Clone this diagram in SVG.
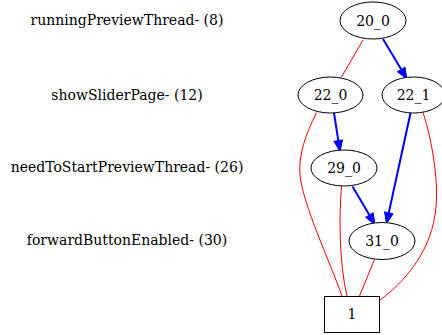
<svg xmlns="http://www.w3.org/2000/svg" width="442" height="335" viewBox="0 0 442 335">
<defs>
<style>
text{font-family:"DejaVu Serif","Liberation Serif",serif;font-size:14px;fill:#000;text-anchor:middle}
.node ellipse,.node rect{fill:#fff;stroke:#000;stroke-width:1}
.red{fill:none;stroke:#f00;stroke-width:1}
.blue{fill:none;stroke:#00f;stroke-width:2;marker-end:url(#ah)}
</style>
<marker id="ah" markerUnits="userSpaceOnUse" markerWidth="12" markerHeight="10" refX="0" refY="5" orient="auto" overflow="visible">
<path d="M0,0.7 L11,5 L0,9.3 z" fill="#00f" stroke="#00f" stroke-width="1"/>
</marker>
</defs>
<rect width="442" height="335" fill="#fff"/>
<g id="labels">
<text x="127" y="25">runningPreviewThread- (8)</text>
<text x="127" y="100">showSliderPage- (12)</text>
<text x="127" y="172">needToStartPreviewThread- (26)</text>
<text x="127" y="245">forwardButtonEnabled- (30)</text>
</g>
<g id="connectors">
<path class="red" d="M363,40 L341.5,77"/>
<path class="blue" d="M383,39 L401.3,69.6"/>
<path class="blue" d="M334,113 L338.3,140.6"/>
<path class="blue" d="M410.5,113 L388.8,212.8"/>
<path class="blue" d="M352.5,186.5 L369.4,215"/>
<path class="red" d="M316.5,112.5 C306,134 298,155 300,175 C303,205 330,262 342,296"/>
<path class="red" d="M423,112.5 C432,140 440,185 435,215 C429,255 402,284 380,300"/>
<path class="red" d="M341.5,186 C339,215 339,262 347,296"/>
<path class="red" d="M374.5,259.5 L359.5,296"/>
</g>
<g id="n20_0" class="node"><ellipse cx="373" cy="20.5" rx="33" ry="18.5"/><text x="373" y="25.5">20_0</text></g>
<g id="n22_0" class="node"><ellipse cx="330.5" cy="95" rx="32.5" ry="18"/><text x="330.5" y="100">22_0</text></g>
<g id="n22_1" class="node"><ellipse cx="413.5" cy="95" rx="31.5" ry="18"/><text x="413.5" y="100">22_1</text></g>
<g id="n29_0" class="node"><ellipse cx="344" cy="168" rx="33" ry="18"/><text x="344" y="173">29_0</text></g>
<g id="n31_0" class="node"><ellipse cx="382" cy="241" rx="33" ry="18.5"/><text x="382" y="246">31_0</text></g>
<g id="n1" class="node"><rect x="324.5" y="296.5" width="55" height="36"/><text x="352" y="319">1</text></g>
</svg>
